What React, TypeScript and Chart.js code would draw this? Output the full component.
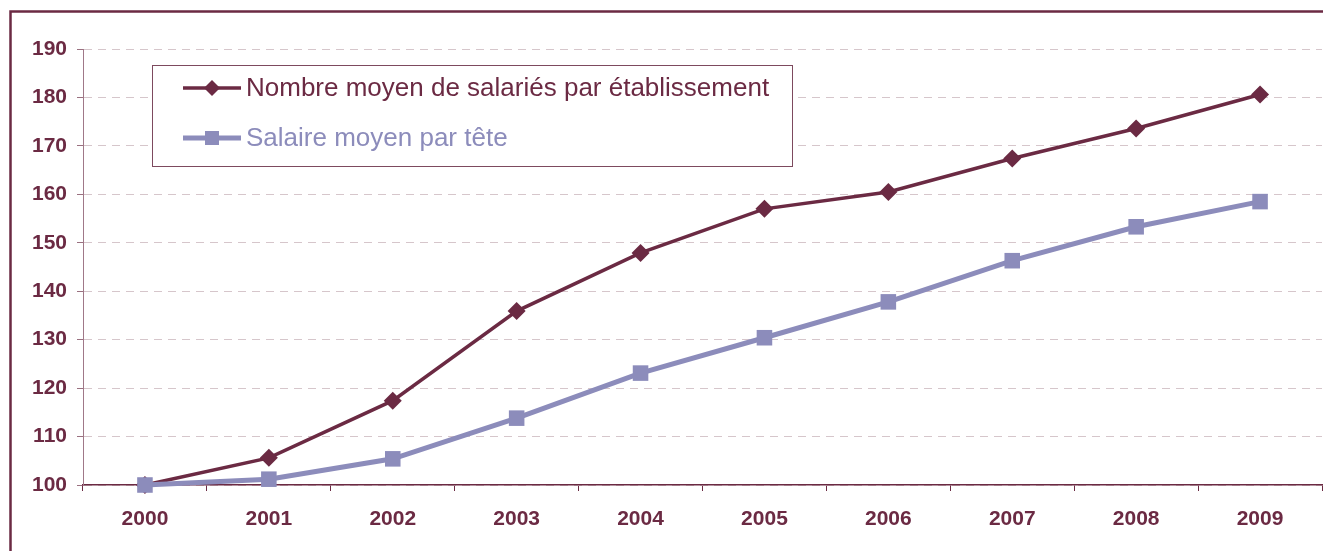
import React, { useEffect, useRef } from "react";
import { Chart, registerables } from "chart.js";

Chart.register(...registerables);

const years = ["2000", "2001", "2002", "2003", "2004", "2005", "2006", "2007", "2008", "2009"];
const nombreMoyen = [100, 105.6, 117.4, 135.9, 147.9, 157.0, 160.5, 167.4, 173.6, 180.6];
const salaireMoyen = [100, 101.2, 105.4, 113.8, 123.1, 130.4, 137.8, 146.3, 153.3, 158.5];
const seriesLabels = ["Nombre moyen de salariés par établissement", "Salaire moyen par tête"];

const MAROON = "#6b2a43";
const LAVENDER = "#8c8cbb";
const FONT = "'Liberation Sans', Arial, sans-serif";

const framePlugin = {
  id: "frame",
  afterDraw(chart: any) {
    const ctx = chart.ctx;
    ctx.save();
    // outer frame
    ctx.strokeStyle = MAROON;
    ctx.lineWidth = 2.5;
    ctx.beginPath();
    ctx.moveTo(10.5, 560);
    ctx.lineTo(10.5, 11.5);
    ctx.lineTo(1340, 11.5);
    ctx.stroke();

    // legend box
    const bx = 152.5, by = 65.5, bw = 640, bh = 101;
    ctx.fillStyle = "#ffffff";
    ctx.fillRect(bx, by, bw, bh);
    ctx.strokeStyle = "#7d4a5e";
    ctx.lineWidth = 1;
    ctx.strokeRect(bx, by, bw, bh);

    const items = [
      { label: seriesLabels[0], color: MAROON, lw: 3.5, y: 88, style: "diamond" },
      { label: seriesLabels[1], color: LAVENDER, lw: 5, y: 138, style: "square" },
    ];
    items.forEach((it) => {
      ctx.strokeStyle = it.color;
      ctx.lineWidth = it.lw;
      ctx.beginPath();
      ctx.moveTo(183, it.y);
      ctx.lineTo(241, it.y);
      ctx.stroke();
      ctx.fillStyle = it.color;
      ctx.beginPath();
      if (it.style === "diamond") {
        ctx.moveTo(212, it.y - 8);
        ctx.lineTo(220, it.y);
        ctx.lineTo(212, it.y + 8);
        ctx.lineTo(204, it.y);
        ctx.closePath();
      } else {
        ctx.rect(205, it.y - 7, 14, 14);
      }
      ctx.fill();
      ctx.font = `26px ${FONT}`;
      ctx.textBaseline = "middle";
      ctx.textAlign = "left";
      ctx.fillText(it.label, 246, it.y + 1);
    });
    ctx.restore();
  },
};

export default function App() {
  const ref = useRef<HTMLCanvasElement>(null);
  useEffect(() => {
    document.body.style.margin = "0";
    const chart = new Chart(ref.current!, {
      type: "line",
      data: {
        labels: years,
        datasets: [
          {
            label: seriesLabels[0],
            data: nombreMoyen,
            borderColor: MAROON,
            backgroundColor: MAROON,
            borderWidth: 3.5,
            pointStyle: "rectRot",
            pointRadius: 9,
            pointBorderWidth: 0,
            tension: 0,
            clip: false,
            order: 1,
          },
          {
            label: seriesLabels[1],
            data: salaireMoyen,
            borderColor: LAVENDER,
            backgroundColor: LAVENDER,
            borderWidth: 5,
            pointStyle: "rect",
            pointRadius: 11,
            pointBorderWidth: 0,
            tension: 0,
            clip: false,
            order: 0,
          },
        ],
      },
      options: {
        animation: false,
        responsive: false,
        maintainAspectRatio: false,
        layout: { autoPadding: false, padding: { left: 0, right: 1, top: 49, bottom: 0 } },
        plugins: { legend: { display: false }, tooltip: { enabled: false } },
        scales: {
          x: {
            offset: true,
            grid: {
              offset: true,
              drawOnChartArea: false,
              drawTicks: true,
              tickLength: 6,
              tickColor: MAROON,
              tickWidth: 1,
            },
            border: { display: true, color: MAROON, width: 1.5 },
            ticks: {
              color: MAROON,
              font: { family: FONT, size: 21, weight: "bold" },
              padding: 16,
              maxRotation: 0,
            },
            afterFit(scale: any) {
              scale.height = 66;
              scale.paddingLeft = 0;
              scale.paddingRight = 0;
            },
          },
          y: {
            min: 100,
            max: 190,
            grid: {
              color: "#d6c6cb",
              lineWidth: 1,
              drawTicks: true,
              tickLength: 6,
              tickColor: "#9a7080",
            },
            border: { display: true, color: "#a07888", width: 1, dash: [8, 6] },
            ticks: {
              stepSize: 10,
              color: MAROON,
              font: { family: FONT, size: 21, weight: "bold" },
              padding: 10,
            },
            afterFit(scale: any) {
              scale.width = 83;
              scale.paddingTop = 0;
              scale.paddingBottom = 0;
            },
          },
        },
      },
      plugins: [framePlugin],
    });
    return () => chart.destroy();
  }, []);
  return <canvas ref={ref} width={1323} height={551} style={{ display: "block" }} />;
}
